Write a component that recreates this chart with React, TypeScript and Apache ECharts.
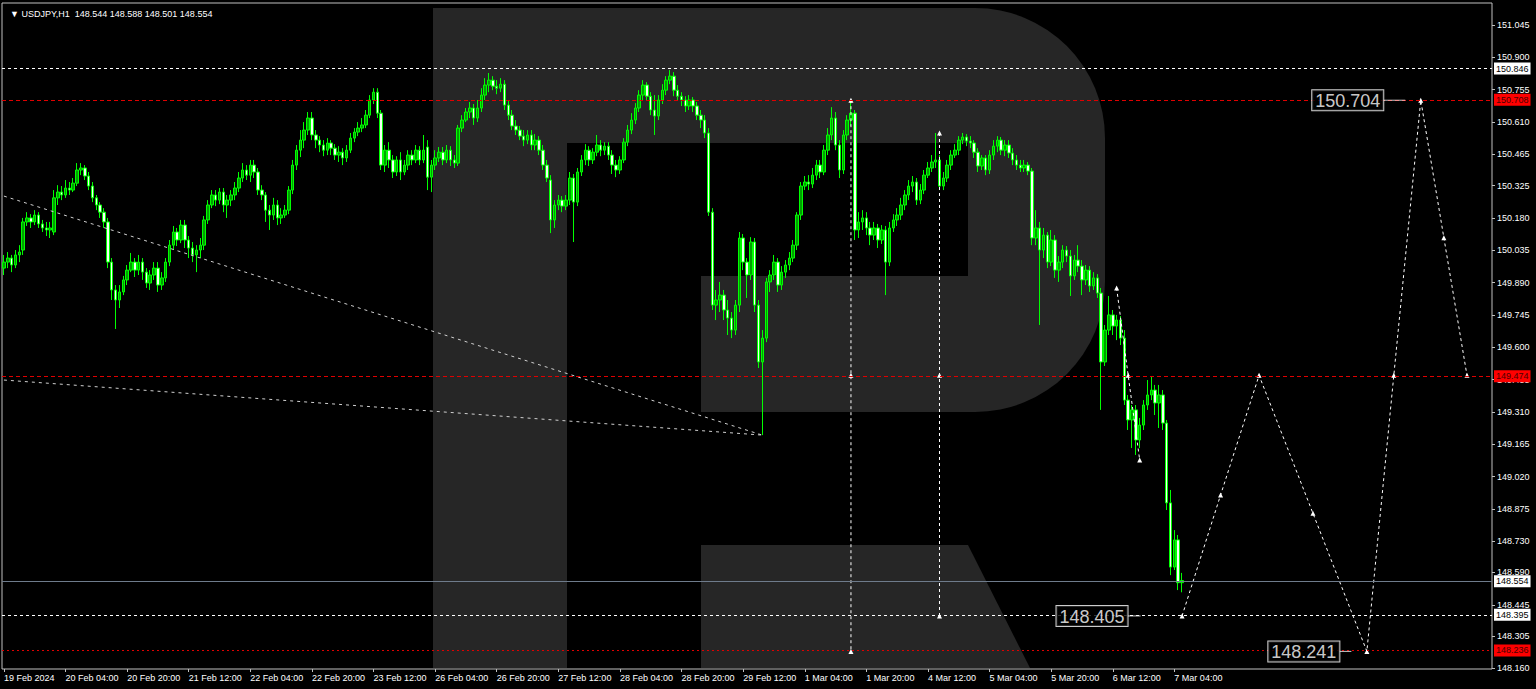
import React, { useEffect, useRef } from "react";
import * as echarts from "echarts";

// ---- data (hourly USDJPY candles: [open, close, low, high]) ----
const CANDLES: number[][] = [
  [149.955,149.982,149.924,150.014],[149.982,150.000,149.955,150.027],[150.000,149.969,149.937,150.014],[149.969,150.014,149.955,150.036],
  [150.014,150.027,149.982,150.058],[150.036,150.162,150.014,150.180],[150.162,150.180,150.144,150.206],[150.180,150.162,150.135,150.197],
  [150.162,150.193,150.148,150.215],[150.193,150.153,150.135,150.206],[150.153,150.135,150.117,150.171],[150.135,150.126,150.099,150.162],
  [150.126,150.135,150.090,150.162],[150.117,150.270,150.103,150.305],[150.270,150.296,150.238,150.327],[150.296,150.283,150.260,150.323],
  [150.283,150.314,150.270,150.350],[150.314,150.305,150.283,150.341],[150.305,150.336,150.296,150.359],[150.336,150.395,150.323,150.426],
  [150.395,150.404,150.372,150.426],[150.404,150.368,150.350,150.417],[150.368,150.323,150.305,150.386],[150.323,150.270,150.251,150.341],
  [150.270,150.238,150.215,150.283],[150.238,150.206,150.180,150.251],[150.206,150.162,150.135,150.224],[150.162,149.982,149.955,150.180],
  [149.982,149.857,149.812,150.000],[149.857,149.812,149.682,149.879],[149.812,149.848,149.776,149.879],[149.848,149.902,149.834,149.920],
  [149.902,149.946,149.879,149.969],[149.946,149.982,149.937,150.023],[149.982,149.946,149.915,150.000],[149.946,149.982,149.924,150.014],
  [149.982,149.937,149.902,150.000],[149.937,149.888,149.866,149.955],[149.888,149.924,149.857,149.946],[149.924,149.955,149.902,149.982],
  [149.955,149.879,149.848,149.982],[149.879,149.911,149.857,149.937],[149.911,149.982,149.893,150.000],[149.982,150.058,149.964,150.081],
  [150.058,150.117,150.036,150.144],[150.117,150.081,150.054,150.135],[150.081,150.148,150.067,150.171],[150.148,150.081,150.045,150.171],
  [150.081,150.045,150.000,150.099],[150.045,150.014,149.982,150.072],[150.014,150.036,149.937,150.058],[150.036,150.058,150.000,150.090],
  [150.058,150.171,150.036,150.189],[150.171,150.238,150.153,150.260],[150.238,150.283,150.224,150.305],[150.283,150.260,150.233,150.305],
  [150.260,150.296,150.242,150.314],[150.296,150.238,150.206,150.314],[150.238,150.260,150.180,150.283],[150.260,150.283,150.233,150.305],
  [150.283,150.314,150.260,150.341],[150.314,150.359,150.296,150.386],[150.359,150.395,150.341,150.426],[150.395,150.372,150.350,150.417],
  [150.372,150.417,150.341,150.440],[150.417,150.386,150.359,150.440],[150.386,150.305,150.283,150.404],[150.305,150.283,150.260,150.327],
  [150.283,150.215,150.162,150.296],[150.215,150.193,150.126,150.238],[150.193,150.238,150.171,150.270],[150.238,150.180,150.148,150.260],
  [150.180,150.193,150.153,150.224],[150.193,150.215,150.180,150.238],[150.215,150.305,150.197,150.323],[150.305,150.417,150.287,150.440],
  [150.417,150.484,150.395,150.507],[150.484,150.529,150.453,150.574],[150.529,150.574,150.493,150.610],[150.574,150.628,150.552,150.655],
  [150.628,150.552,150.529,150.655],[150.552,150.529,150.493,150.574],[150.529,150.507,150.475,150.547],[150.507,150.484,150.457,150.529],
  [150.484,150.516,150.462,150.538],[150.516,150.493,150.462,150.529],[150.493,150.462,150.440,150.511],[150.462,150.475,150.431,150.502],
  [150.475,150.449,150.417,150.493],[150.449,150.484,150.431,150.507],[150.484,150.538,150.471,150.561],[150.538,150.565,150.520,150.583],
  [150.565,150.583,150.547,150.610],[150.583,150.597,150.565,150.628],[150.597,150.641,150.583,150.664],[150.641,150.709,150.628,150.731],
  [150.709,150.744,150.691,150.762],[150.744,150.650,150.628,150.762],[150.650,150.417,150.395,150.664],[150.417,150.484,150.386,150.507],
  [150.484,150.440,150.404,150.520],[150.440,150.386,150.359,150.462],[150.386,150.440,150.368,150.457],[150.440,150.386,150.350,150.475],
  [150.386,150.417,150.372,150.440],[150.417,150.462,150.395,150.484],[150.462,150.440,150.417,150.484],[150.440,150.484,150.426,150.507],
  [150.484,150.440,150.417,150.502],[150.440,150.484,150.426,150.552],[150.498,150.363,150.305,150.529],[150.363,150.417,150.296,150.440],
  [150.417,150.449,150.395,150.484],[150.449,150.475,150.431,150.498],[150.475,150.440,150.417,150.498],[150.440,150.484,150.426,150.507],
  [150.484,150.440,150.413,150.502],[150.440,150.426,150.404,150.462],[150.426,150.583,150.413,150.597],[150.583,150.619,150.565,150.641],
  [150.619,150.655,150.610,150.673],[150.655,150.673,150.628,150.700],[150.673,150.628,150.597,150.691],[150.628,150.673,150.610,150.709],
  [150.673,150.731,150.655,150.762],[150.731,150.776,150.709,150.807],[150.776,150.798,150.744,150.830],[150.798,150.771,150.753,150.816],
  [150.771,150.762,150.735,150.798],[150.762,150.780,150.744,150.807],[150.780,150.686,150.664,150.798],[150.686,150.641,150.619,150.709],
  [150.641,150.592,150.574,150.664],[150.592,150.574,150.552,150.619],[150.574,150.547,150.529,150.592],[150.547,150.529,150.502,150.574],
  [150.529,150.552,150.511,150.574],[150.552,150.507,150.484,150.574],[150.507,150.529,150.484,150.556],[150.529,150.484,150.462,150.547],
  [150.484,150.417,150.395,150.507],[150.417,150.359,150.341,150.440],[150.350,150.171,150.112,150.372],[150.171,150.238,150.135,150.260],
  [150.238,150.260,150.215,150.283],[150.260,150.233,150.206,150.278],[150.233,150.260,150.215,150.283],[150.260,150.359,150.238,150.386],
  [150.359,150.251,150.072,150.377],[150.251,150.386,150.233,150.404],[150.386,150.440,150.368,150.462],[150.440,150.484,150.417,150.511],
  [150.484,150.440,150.413,150.502],[150.440,150.475,150.422,150.493],[150.475,150.507,150.457,150.552],[150.507,150.484,150.457,150.529],
  [150.484,150.502,150.462,150.520],[150.502,150.462,150.440,150.520],[150.462,150.417,150.377,150.484],[150.417,150.395,150.363,150.440],
  [150.395,150.440,150.377,150.457],[150.440,150.520,150.426,150.538],[150.520,150.574,150.502,150.597],[150.574,150.619,150.556,150.650],
  [150.619,150.673,150.601,150.695],[150.673,150.731,150.655,150.753],[150.731,150.776,150.709,150.798],[150.776,150.726,150.709,150.789],
  [150.726,150.664,150.641,150.744],[150.664,150.637,150.552,150.731],[150.637,150.709,150.619,150.731],[150.709,150.753,150.691,150.780],
  [150.753,150.798,150.731,150.816],[150.798,150.816,150.780,150.843],[150.816,150.753,150.726,150.834],[150.753,150.726,150.709,150.776],
  [150.726,150.709,150.682,150.744],[150.709,150.682,150.655,150.726],[150.682,150.709,150.664,150.731],[150.709,150.682,150.655,150.722],
  [150.682,150.641,150.619,150.700],[150.641,150.619,150.583,150.664],[150.619,150.561,150.538,150.641],[150.561,150.206,150.189,150.583],
  [150.206,149.789,149.767,150.224],[149.789,149.812,149.722,149.857],[149.812,149.834,149.758,149.893],[149.834,149.767,149.722,149.857],
  [149.767,149.731,149.655,149.812],[149.731,149.677,149.641,149.758],[149.677,149.789,149.655,149.812],[149.789,150.090,149.758,150.117],
  [150.090,149.982,149.946,150.108],[149.982,149.924,149.821,150.000],[149.924,150.072,149.902,150.094],[150.072,149.789,149.758,150.090],
  [149.789,149.534,149.507,149.812],[149.534,149.641,149.206,149.677],[149.641,149.893,149.623,149.911],[149.893,149.924,149.848,149.946],
  [149.924,149.982,149.902,150.014],[149.982,149.879,149.848,150.000],[149.879,149.937,149.857,149.964],[149.937,149.969,149.911,149.991],
  [149.969,150.000,149.946,150.027],[150.000,150.058,149.982,150.081],[150.058,150.193,150.036,150.206],[150.193,150.323,150.171,150.341],
  [150.323,150.341,150.305,150.368],[150.341,150.332,150.305,150.372],[150.332,150.372,150.314,150.404],[150.372,150.417,150.350,150.440],
  [150.417,150.386,150.359,150.440],[150.386,150.484,150.372,150.507],[150.484,150.552,150.462,150.583],[150.552,150.628,150.529,150.677],
  [150.628,150.507,150.484,150.655],[150.507,150.395,150.359,150.529],[150.395,150.552,150.377,150.574],[150.552,150.619,150.529,150.641],
  [150.619,150.650,150.592,150.708],[150.650,150.126,150.081,150.664],[150.126,150.162,150.090,150.206],[150.162,150.180,150.126,150.215],
  [150.180,150.135,150.103,150.206],[150.135,150.103,150.058,150.162],[150.103,150.135,150.081,150.162],[150.135,150.081,150.045,150.153],
  [150.081,150.126,150.063,150.148],[150.126,149.982,149.834,150.144],[149.982,150.135,149.964,150.162],[150.135,150.171,150.117,150.197],
  [150.171,150.193,150.144,150.224],[150.193,150.238,150.171,150.270],[150.238,150.283,150.215,150.305],[150.283,150.323,150.260,150.350],
  [150.323,150.341,150.296,150.368],[150.341,150.260,150.238,150.359],[150.260,150.305,150.242,150.332],[150.305,150.372,150.287,150.395],
  [150.372,150.404,150.359,150.431],[150.404,150.431,150.386,150.462],[150.431,150.440,150.404,150.561],[150.440,150.323,150.305,150.462],
  [150.323,150.359,150.305,150.386],[150.359,150.417,150.341,150.440],[150.417,150.462,150.395,150.484],[150.462,150.484,150.449,150.511],
  [150.484,150.529,150.462,150.547],[150.529,150.543,150.511,150.561],[150.543,150.525,150.502,150.556],[150.525,150.516,150.493,150.547],
  [150.516,150.475,150.449,150.529],[150.475,150.413,150.386,150.493],[150.413,150.449,150.395,150.462],[150.449,150.395,150.372,150.462],
  [150.395,150.462,150.377,150.484],[150.462,150.502,150.440,150.529],[150.502,150.529,150.475,150.547],[150.529,150.484,150.462,150.543],
  [150.484,150.507,150.457,150.529],[150.507,150.471,150.449,150.529],[150.471,150.440,150.417,150.493],[150.440,150.417,150.395,150.462],
  [150.417,150.404,150.386,150.440],[150.404,150.417,150.386,150.440],[150.417,150.390,150.372,150.431],[150.390,150.090,150.058,150.404],
  [150.090,150.135,150.058,150.215],[150.135,150.036,149.700,150.162],[150.036,150.103,150.000,150.135],[150.103,149.982,149.955,150.117],
  [149.982,150.081,149.964,150.126],[150.081,149.946,149.911,150.103],[149.946,149.982,149.893,150.009],[149.982,150.036,149.955,150.058],
  [150.036,150.009,149.982,150.054],[150.009,149.920,149.830,150.036],[149.920,149.991,149.902,150.014],[149.991,149.964,149.937,150.058],
  [149.964,149.902,149.834,149.991],[149.902,149.946,149.879,149.969],[149.946,149.875,149.848,149.964],[149.875,149.911,149.857,149.937],
  [149.911,149.843,149.821,149.928],[149.843,149.534,149.319,149.866],[149.534,149.677,149.516,149.700],[149.677,149.745,149.655,149.830],
  [149.745,149.695,149.655,149.767],[149.695,149.722,149.632,149.745],[149.722,149.641,149.610,149.740],[149.641,149.363,149.341,149.677],
  [149.363,149.274,149.229,149.386],[149.274,149.319,149.148,149.341],[149.319,149.184,149.117,149.341],[149.184,149.251,149.148,149.283],
  [149.251,149.341,149.229,149.363],[149.341,149.386,149.319,149.453],[149.386,149.408,149.363,149.471],[149.408,149.350,149.296,149.431],
  [149.350,149.386,149.238,149.431],[149.386,149.260,149.229,149.408],[149.260,148.902,148.870,149.274],[148.902,148.614,148.578,148.960],
  [148.614,148.736,148.601,148.780],[148.736,148.544,148.511,148.758],[148.544,148.554,148.501,148.588],
];

const TOTAL_SLOTS = 387; // candles + empty future bars on the time axis
const X_LABEL_INDEX = [0,16,32,48,64,80,96,112,128,144,160,176,192,208,224,240,256,272,288,304];
const X_LABEL_TEXT = [
  "19 Feb 2024","20 Feb 04:00","20 Feb 20:00","21 Feb 12:00","22 Feb 04:00","22 Feb 20:00","23 Feb 12:00",
  "26 Feb 04:00","26 Feb 20:00","27 Feb 12:00","28 Feb 04:00","28 Feb 20:00","29 Feb 12:00","1 Mar 04:00",
  "1 Mar 20:00","4 Mar 12:00","5 Mar 04:00","5 Mar 20:00","6 Mar 12:00","7 Mar 04:00",
];
const Y_TICKS = [151.045,150.900,150.755,150.610,150.465,150.325,150.180,150.035,149.890,149.745,149.600,149.455,149.310,149.165,149.020,148.875,148.730,148.590,148.445,148.305,148.160];
const Y_MIN = 148.157;
const Y_MAX = 151.144;

const LEVEL_VALUES = [150.846, 150.708, 149.474, 148.554, 148.395, 148.236];
const LEVEL_KINDS = ["white", "red", "red", "price", "white", "redDot"];

const TREND_A = [[0, 150.278], [197, 149.206]];
const TREND_B = [[0, 149.453], [197, 149.206]];
const VLINE_A = [[220, 150.708], [220, 149.474], [220, 148.236]];
const VLINE_B = [[243, 150.561], [243, 149.474], [243, 148.395]];
const FORECAST_PREV = [[289, 149.866], [292, 149.474], [295, 149.094]];
const FORECAST_MAIN = [[306, 148.395], [316, 148.937], [326, 149.474], [340, 148.855], [354, 148.236], [361, 149.474], [368, 150.708], [374, 150.091], [380, 149.474]];

const BOX_POINTS = [[368, 150.708], [306, 148.395], [354, 148.236]];
const BOX_TEXT = ["150.704", "148.405", "148.241"];
const BOX_DASH = [22, 13, 12];
const BOX_GAP = [15, 41, 15];

const SYMBOL = "USDJPY,H1";

export default function App() {
  const ref = useRef<HTMLDivElement>(null);
  useEffect(() => {
    if (!ref.current) return;
    const chart = echarts.init(ref.current, undefined, { renderer: "svg" });
    const labelMap: Record<number, string> = {};
    X_LABEL_INDEX.forEach((idx, k) => (labelMap[idx] = X_LABEL_TEXT[k]));
    const categories = Array.from({ length: TOTAL_SLOTS }, (_, i) => String(i));
    const last = CANDLES[CANDLES.length - 1];
    const GRAY = "#262626";

    const levelStyle = (kind: string) => {
      if (kind === "white") return { line: { color: "#ffffff", type: [3, 3] as any, width: 1 }, bg: "#ffffff", fg: "#000000" };
      if (kind === "red") return { line: { color: "#e00000", type: [4, 3] as any, width: 1 }, bg: "#ff0000", fg: "#4a0000" };
      if (kind === "redDot") return { line: { color: "#e00000", type: [2, 3] as any, width: 1 }, bg: "#ff0000", fg: "#4a0000" };
      return { line: { color: "#6e7b8b", type: "solid" as any, width: 1 }, bg: "#ffffff", fg: "#000000" };
    };

    const dashLine = (data: number[][], color = "#ffffff", dash = [3, 3], markers = true) => ({
      type: "line",
      data,
      symbol: markers ? "triangle" : "none",
      symbolSize: 5,
      showSymbol: markers,
      showAllSymbol: true,
      itemStyle: { color: "#ffffff" },
      lineStyle: { color, width: 1, type: dash },
      silent: true,
      z: 4,
    });

    const rich: any = {
      b: { color: "#ffffff", fontSize: 18, fontFamily: "Liberation Sans", borderColor: "#ffffff", borderWidth: 1, backgroundColor: "#000000", padding: [2, 3, 0, 3], lineHeight: 20, verticalAlign: "middle" },
    };
    BOX_DASH.forEach((w, i) => {
      rich["d" + i] = { width: w, height: 1, lineHeight: 1, backgroundColor: "#ffffff", verticalAlign: "middle" };
    });

    chart.setOption({
      animation: false,
      backgroundColor: "#000000",
      textStyle: { fontFamily: "Liberation Sans, Arial, sans-serif" },
      title: {
        text: `\u25BC ${SYMBOL}  ${last[0].toFixed(3)} ${last[3].toFixed(3)} ${last[2].toFixed(3)} ${last[1].toFixed(3)}`,
        left: 5,
        top: 4,
        textStyle: { color: "#ffffff", fontSize: 9, fontWeight: "normal", fontFamily: "Liberation Sans" },
      },
      grid: { left: 2, right: 44, top: 3, bottom: 20, show: true, borderColor: "#c0c0c0", borderWidth: 1, backgroundColor: "transparent" },
      graphic: [
        { type: "rect", z: 0, silent: true, shape: { x: 433, y: 8, width: 672, height: 404, r: [0, 130, 130, 0] }, style: { fill: GRAY } },
        { type: "rect", z: 0, silent: true, shape: { x: 433, y: 8, width: 134, height: 660 }, style: { fill: GRAY } },
        { type: "polygon", z: 0, silent: true, shape: { points: [[701, 545], [968, 545], [1030, 668], [701, 668]] }, style: { fill: GRAY } },
        { type: "rect", z: 1, silent: true, shape: { x: 567, y: 143, width: 401, height: 133 }, style: { fill: "#000000" } },
        { type: "rect", z: 1, silent: true, shape: { x: 567, y: 276, width: 134, height: 136 }, style: { fill: "#000000" } },
      ],
      xAxis: {
        type: "category",
        data: categories,
        boundaryGap: true,
        axisLine: { show: false },
        axisTick: { show: true, alignWithLabel: true, length: 3, interval: (i: number) => labelMap[i] !== undefined, lineStyle: { color: "#c0c0c0" } },
        axisLabel: {
          show: true,
          interval: (i: number) => labelMap[i] !== undefined,
          formatter: (_v: string, i: number) => labelMap[i] ?? "",
          color: "#ffffff",
          fontSize: 9,
          align: "left",
          margin: 4,
        },
        splitLine: { show: false },
      },
      yAxis: {
        type: "value",
        position: "right",
        min: Y_MIN,
        max: Y_MAX,
        axisLine: { show: false },
        axisTick: { show: true, length: 3, customValues: Y_TICKS, lineStyle: { color: "#c0c0c0" } },
        axisLabel: { customValues: Y_TICKS, formatter: (v: number) => v.toFixed(3), color: "#ffffff", fontSize: 9, margin: 5 },
        splitLine: { show: false },
      },
      series: [
        {
          type: "candlestick",
          data: CANDLES,
          barWidth: 3,
          z: 3,
          itemStyle: { color: "#00a000", color0: "#f4fff4", borderColor: "#00ff00", borderColor0: "#00ff00", borderWidth: 1 },
          markLine: {
            silent: true,
            symbol: ["none", "none"],
            animation: false,
            data: LEVEL_VALUES.map((v, i) => {
              const s = levelStyle(LEVEL_KINDS[i]);
              return {
                yAxis: v,
                lineStyle: s.line,
                label: {
                  show: true,
                  position: "end",
                  distance: 2,
                  formatter: () => v.toFixed(3),
                  backgroundColor: s.bg,
                  color: s.fg,
                  fontSize: 9,
                  padding: [2, 2, 1, 2],
                },
              };
            }),
          },
        },
        dashLine(TREND_A, "#d0d0d0", [3, 4], false),
        dashLine(TREND_B, "#d0d0d0", [3, 4], false),
        dashLine(VLINE_A),
        dashLine(VLINE_B),
        dashLine(FORECAST_PREV),
        dashLine(FORECAST_MAIN),
        {
          type: "scatter",
          symbolSize: 1,
          itemStyle: { color: "transparent" },
          silent: true,
          z: 6,
          data: BOX_POINTS.map((p, i) => ({
            value: p,
            label: { show: true, position: "left", distance: BOX_GAP[i], formatter: `{b|${BOX_TEXT[i]}}{d${i}| }`, rich },
          })),
        },
      ],
    });
    return () => chart.dispose();
  }, []);
  return <div ref={ref} style={{ position: "fixed", left: 0, top: 0, width: 1536, height: 689 }} />;
}
